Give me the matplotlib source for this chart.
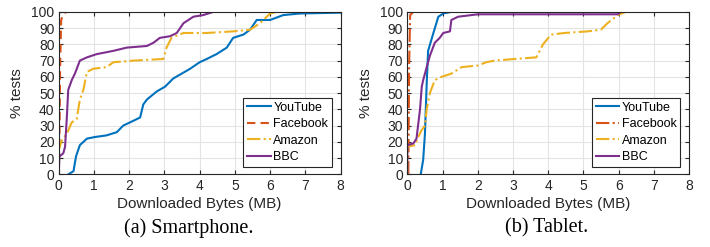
import numpy as np
import matplotlib.pyplot as plt

plt.rcParams['font.family'] = ['Liberation Sans', 'DejaVu Sans']

# (a) Smartphone: CDF points (MB, % tests)
sp_yt_x = [0.27, 0.42, 0.49, 0.6, 0.8, 1.03, 1.36, 1.65, 1.83, 2.12, 2.31, 2.40, 2.5, 2.78, 3.02,
           3.25, 3.49, 3.73, 4.0, 4.2, 4.48, 4.77, 4.95, 5.24, 5.43, 5.62, 6.0, 6.37, 6.85, 8.0]
sp_yt_y = [0, 2, 11, 18, 22, 23, 24, 26, 30, 33, 35, 43, 46, 51, 54,
           59, 62, 65, 69, 71, 74, 78, 84, 86, 89, 95, 95, 98, 99, 99.5]
sp_fb_x = [0.0, 0.02, 0.04, 0.07, 0.13, 0.23, 8.0]
sp_fb_y = [0, 21, 66, 95, 99, 100, 100]
sp_am_x = [0.0, 0.0, 0.09, 0.23, 0.37, 0.51, 0.6, 0.7, 0.8, 0.98, 1.36, 1.55, 2.12, 2.97, 3.06,
           3.2, 3.54, 4.2, 4.95, 5.43, 5.71, 6.0, 6.18, 8.0]
sp_am_y = [0, 15, 21, 25, 32, 34, 46, 52, 63, 65, 66, 69, 70, 71, 78,
           84, 87, 87, 88, 89, 93, 99, 100, 100]
sp_bbc_x = [0.0, 0.02, 0.13, 0.18, 0.23, 0.27, 0.37, 0.46, 0.6, 0.8, 1.08, 1.55, 1.93, 2.5, 2.69,
            2.87, 3.16, 3.35, 3.54, 3.82, 4.1, 4.39, 8.0]
sp_bbc_y = [0, 11, 13, 17, 35, 52, 58, 62, 70, 72, 74, 76, 78, 79, 81,
            84, 85, 87, 93, 97, 98, 100, 100]

# (b) Tablet
tb_yt_x = [0.38, 0.45, 0.5, 0.55, 0.59, 0.74, 0.88, 1.02, 1.25]
tb_yt_y = [0, 9, 25, 56, 76, 87, 97, 99, 100]
tb_fb_x = [0.03, 0.05, 0.08, 0.17, 0.2]
tb_fb_y = [0, 66, 98, 100, 100]
tb_am_x = [0.0, 0.0, 0.22, 0.31, 0.4, 0.5, 0.55, 0.64, 0.78, 0.97, 1.25, 1.54, 2.0, 2.24, 2.48,
           3.04, 3.66, 3.85, 4.08, 4.46, 5.12, 5.49, 5.68, 5.97, 6.2, 6.63]
tb_am_y = [0, 17, 18, 23, 27, 30, 40, 50, 58, 60, 62, 66, 67, 69, 70,
           71, 72, 80, 86, 87, 88, 89, 93, 98, 100, 100]
tb_bbc_x = [0.0, 0.0, 0.17, 0.26, 0.36, 0.41, 0.45, 0.55, 0.64, 0.78, 0.92, 1.02, 1.21, 1.25, 1.44,
            2.0, 5.97, 6.06, 6.15]
tb_bbc_y = [0, 18, 19, 22, 40, 54, 58, 66, 73, 81, 84, 87, 88, 95, 97,
            98.5, 98.5, 100, 100]

names = ['YouTube', 'Facebook', 'Amazon', 'BBC']
colors = ['#0072BD', '#D95319', '#EDB120', '#7E2F8E']

fig = plt.figure(figsize=(7.1, 2.47), dpi=100)


def panel(left, series, styles, caption, cap_x):
    ax = fig.add_axes([left, 0.294, 0.397, 0.658])
    for (x, y), name, c, ls in zip(series, names, colors, styles):
        ax.plot(x, y, color=c, linestyle=ls, linewidth=1.5, label=name)
    ax.set_xlim(0, 8)
    ax.set_ylim(0, 100)
    ax.set_xticks(range(0, 9))
    ax.set_yticks(range(0, 101, 10))
    ax.grid(True, color='#e3e3e3', linewidth=0.8)
    ax.set_axisbelow(True)
    ax.tick_params(direction='in', top=True, right=True, length=3,
                   labelsize=10, colors='#262626', pad=3)
    for s in ax.spines.values():
        s.set_color('#262626')
        s.set_linewidth(0.8)
    ax.set_xlabel('Downloaded Bytes (MB)', fontsize=11, color='#262626', labelpad=3)
    ax.set_ylabel('% tests', fontsize=11, color='#262626', labelpad=5)
    leg = ax.legend(loc='lower right', bbox_to_anchor=(0.969, 0.047), borderaxespad=0,
                    fontsize=9, fancybox=False, framealpha=1, handlelength=1.9,
                    handletextpad=0.2, labelspacing=0.35, borderpad=0.3)
    leg.get_frame().set_edgecolor('#262626')
    leg.get_frame().set_linewidth(0.8)
    fig.text(cap_x, 0.057, caption, ha='center', fontsize=14.5,
             family='Liberation Serif')
    return ax


panel(0.0827, [(sp_yt_x, sp_yt_y), (sp_fb_x, sp_fb_y), (sp_am_x, sp_am_y), (sp_bbc_x, sp_bbc_y)],
      ['-', (0, (4, 2.5)), '-.', '-'], '(a) Smartphone.', 189 / 710)
panel(0.5737, [(tb_yt_x, tb_yt_y), (tb_fb_x, tb_fb_y), (tb_am_x, tb_am_y), (tb_bbc_x, tb_bbc_y)],
      ['-', '-.', '-.', '-'], '(b) Tablet.', 547 / 710)

fig.savefig('out.png', dpi=100)
